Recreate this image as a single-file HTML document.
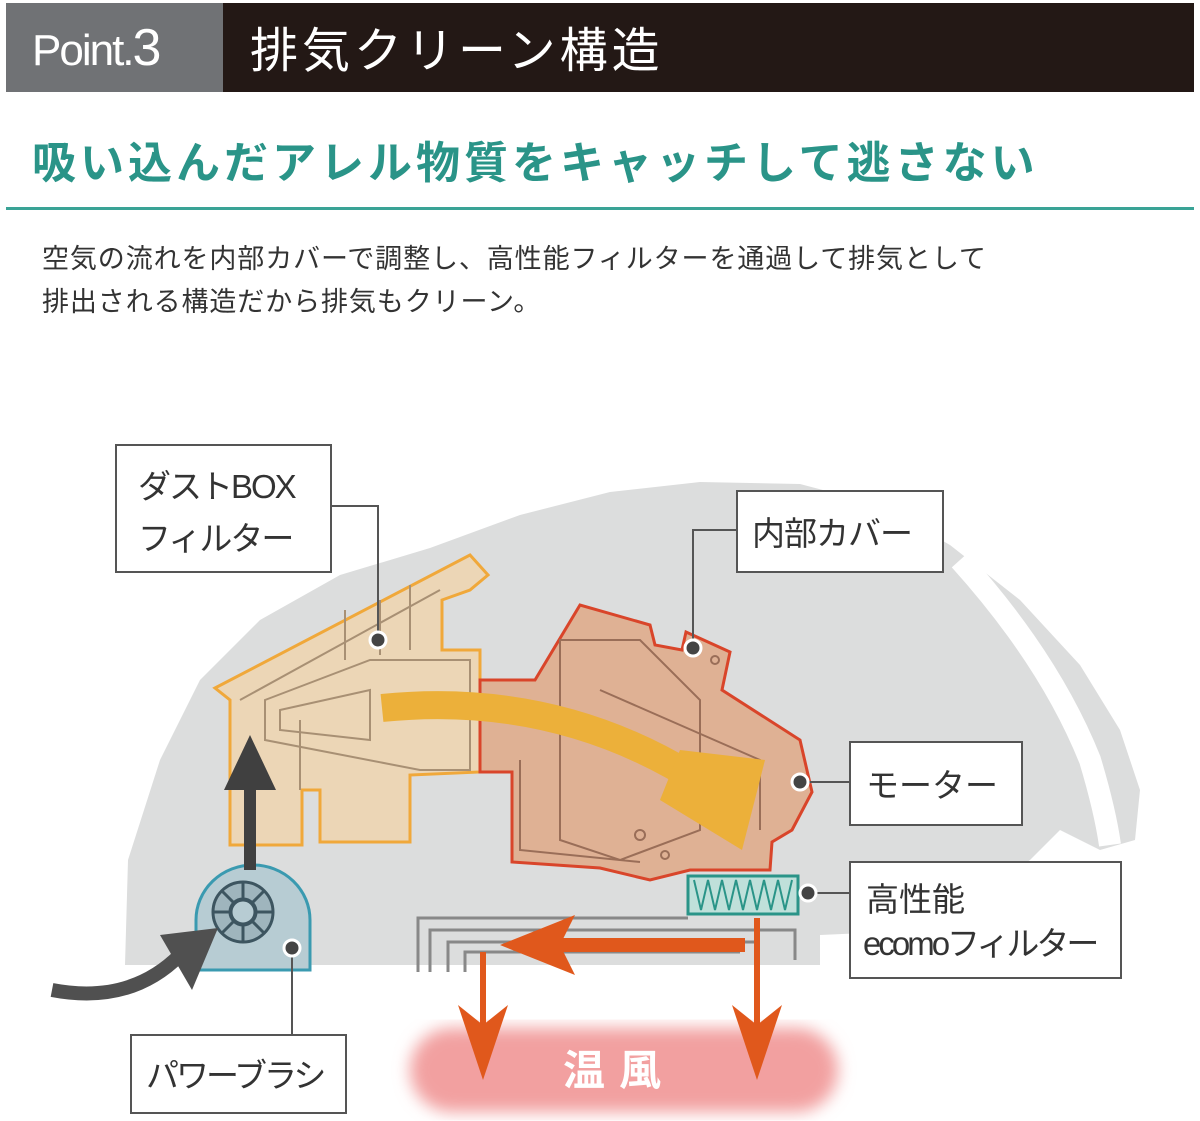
<!DOCTYPE html>
<html><head><meta charset="utf-8"><style>
body{margin:0;background:#fff;width:1200px;height:1121px;overflow:hidden;font-family:"Liberation Sans","Noto Sans CJK JP",sans-serif}
svg{position:absolute;left:0;top:0}
</style></head><body>
<svg width="1200" height="1121" viewBox="0 0 1200 1121" xmlns="http://www.w3.org/2000/svg" font-family="Liberation Sans, Noto Sans CJK JP, sans-serif">
<defs><filter id="bl"><feGaussianBlur stdDeviation="8"/></filter></defs>
<rect x="6" y="3" width="217" height="89" fill="#707275"/>
<rect x="223" y="3" width="971" height="89" fill="#231815"/>
<text x="32" y="65" fill="#fff" font-size="44" letter-spacing="-2">Point.<tspan font-size="52">3</tspan></text>
<text x="250" y="67" fill="#fff" font-size="48" letter-spacing="4">排気クリーン構造</text>
<text x="32" y="178" fill="#2a9488" font-size="44" font-weight="bold" letter-spacing="4">吸い込んだアレル物質をキャッチして逃さない</text>
<rect x="6" y="207" width="1188" height="3" fill="#3aa396"/>
<text x="42" y="268" fill="#333" font-size="27" letter-spacing="0.9">空気の流れを内部カバーで調整し、高性能フィルターを通過して排気として</text>
<text x="42" y="311" fill="#333" font-size="27" letter-spacing="0.9">排出される構造だから排気もクリーン。</text>

<path d="M125,965 L128,860 L160,760 L200,680 L260,620 L340,575 L430,548 L520,515 L610,492 L700,482 L800,484 L880,505 L950,545 L1020,600 L1080,665 L1120,730 L1140,790 L1135,840 L1100,850 L1060,830 L1030,860 L1000,880 L960,900 L930,930 L820,935 L820,965 Z" fill="#dcdddd"/>
<path d="M960,560 Q1050,660 1090,760 Q1105,810 1110,845" stroke="#fff" stroke-width="22" fill="none"/>
<g stroke="#888" stroke-width="3" fill="none">
<path d="M418,972 L418,918 L688,918"/><path d="M430,972 L430,930 L795,930 L795,960"/><path d="M448,972 L448,942 L760,942"/><path d="M465,972 L465,952 L740,952"/>
</g>
<path d="M215,688 L470,555 L488,575 L470,590 L442,600 L442,650 L480,650 L480,772 L410,775 L410,842 L320,842 L320,790 L302,790 L302,845 L230,845 L230,700 Z" fill="#ecd6b6" stroke="#f0a83a" stroke-width="3"/>
<g stroke="#a89074" stroke-width="2" fill="none">
<path d="M265,700 L370,660 L470,660 L470,770 L420,770 L265,740 Z"/><path d="M280,710 L370,690 L370,740 L280,730 Z"/>
<path d="M240,700 L440,590"/><path d="M300,720 L300,790"/><path d="M345,610 L345,660"/><path d="M380,600 L380,655"/><path d="M410,585 L410,650"/>
</g>
<path d="M480,680 L535,680 L580,605 L650,625 L655,645 L682,650 L686,632 L730,652 L722,690 L800,740 L812,792 L792,830 L772,842 L770,870 L690,870 L650,880 L600,868 L512,862 L512,772 L480,772 Z" fill="#dfb194" stroke="#d9452a" stroke-width="3"/>
<g stroke="#9a6e58" stroke-width="2" fill="none">
<path d="M560,640 L640,640 L700,700 L700,830 L620,860 L560,840 Z"/><path d="M600,690 L760,760 L760,830"/><path d="M520,760 L520,850 L640,862"/><circle cx="715" cy="660" r="4"/><circle cx="640" cy="835" r="5"/><circle cx="665" cy="855" r="4"/>
</g>
<path d="M382,708 Q560,690 705,785" stroke="#ecb03a" stroke-width="28" fill="none"/>
<polygon points="680,750 765,760 742,850 660,800" fill="#ecb03a"/>
<rect x="688" y="876" width="110" height="38" fill="#bfe0da" stroke="#2a9488" stroke-width="3"/>
<path d="M694,880 L701,910 L708,880 L715,910 L722,880 L729,910 L736,880 L743,910 L750,880 L757,910 L764,880 L771,910 L778,880 L785,910 L792,880" stroke="#2a9488" stroke-width="2" fill="none"/>
<rect x="410" y="1028" width="428" height="84" rx="42" fill="#f2a0a0" filter="url(#bl)"/>
<text x="563" y="1085" fill="#fff" font-size="42" font-weight="bold" letter-spacing="14">温風</text>
<path d="M745,945 L560,945" stroke="#e0581c" stroke-width="14"/><polygon points="500,945 575,915 560,945 575,975" fill="#e0581c"/>
<path d="M483,952 L483,1040" stroke="#e0581c" stroke-width="6"/><polygon points="458,1005 483,1080 508,1005 483,1025" fill="#e0581c"/>
<path d="M757,918 L757,1040" stroke="#e0581c" stroke-width="6"/><polygon points="732,1005 757,1080 782,1005 757,1025" fill="#e0581c"/>
<path d="M196,970 L196,920 A57,55 0 0 1 310,920 L310,970 Z" fill="#b7ccd3" stroke="#3a9ab0" stroke-width="3"/>
<circle cx="243" cy="912" r="30" fill="#9fb5bd" stroke="#3d5560" stroke-width="3"/><circle cx="243" cy="912" r="13" fill="#b7ccd3" stroke="#3d5560" stroke-width="3"/>
<g stroke="#3d5560" stroke-width="3"><path d="M243,882 L243,942 M213,912 L273,912 M222,891 L264,933 M264,891 L222,933"/></g>
<circle cx="243" cy="912" r="12" fill="#b7ccd3" stroke="#3d5560" stroke-width="3"/>
<path d="M250,870 L250,770" stroke="#404040" stroke-width="12"/><polygon points="224,790 250,735 276,790" fill="#404040"/>
<path d="M52,990 Q130,1005 180,955" stroke="#505050" stroke-width="14" fill="none"/><polygon points="160,935 218,928 192,990" fill="#505050"/>
<g stroke="#555" stroke-width="2" fill="none">
<path d="M331,506 L378,506 L378,640"/><path d="M737,530 L693,530 L693,648"/><path d="M800,782 L850,782"/><path d="M808,893 L850,893"/><path d="M292,948 L292,1035"/>
</g>
<g fill="#444" stroke="#fff" stroke-width="3">
<circle cx="378" cy="640" r="8"/><circle cx="693" cy="648" r="8"/><circle cx="800" cy="782" r="8"/><circle cx="808" cy="893" r="8"/><circle cx="292" cy="948" r="8"/>
</g>
<g fill="#fff" stroke="#555" stroke-width="2">
<rect x="116" y="445" width="215" height="127"/><rect x="737" y="491" width="206" height="81"/><rect x="850" y="742" width="172" height="83"/><rect x="850" y="862" width="271" height="116"/><rect x="131" y="1035" width="215" height="78"/>
</g>
<g fill="#333" font-size="33">
<text x="138" y="498" letter-spacing="-2">ダストBOX</text><text x="138" y="550" letter-spacing="-2">フィルター</text>
<text x="752" y="545" letter-spacing="-1">内部カバー</text>
<text x="866" y="797">モーター</text>
<text x="866" y="911">高性能</text><text x="863" y="955" letter-spacing="-3">ecomoフィルター</text>
<text x="146" y="1087" letter-spacing="-3">パワーブラシ</text>
</g>
</svg>
</body></html>
